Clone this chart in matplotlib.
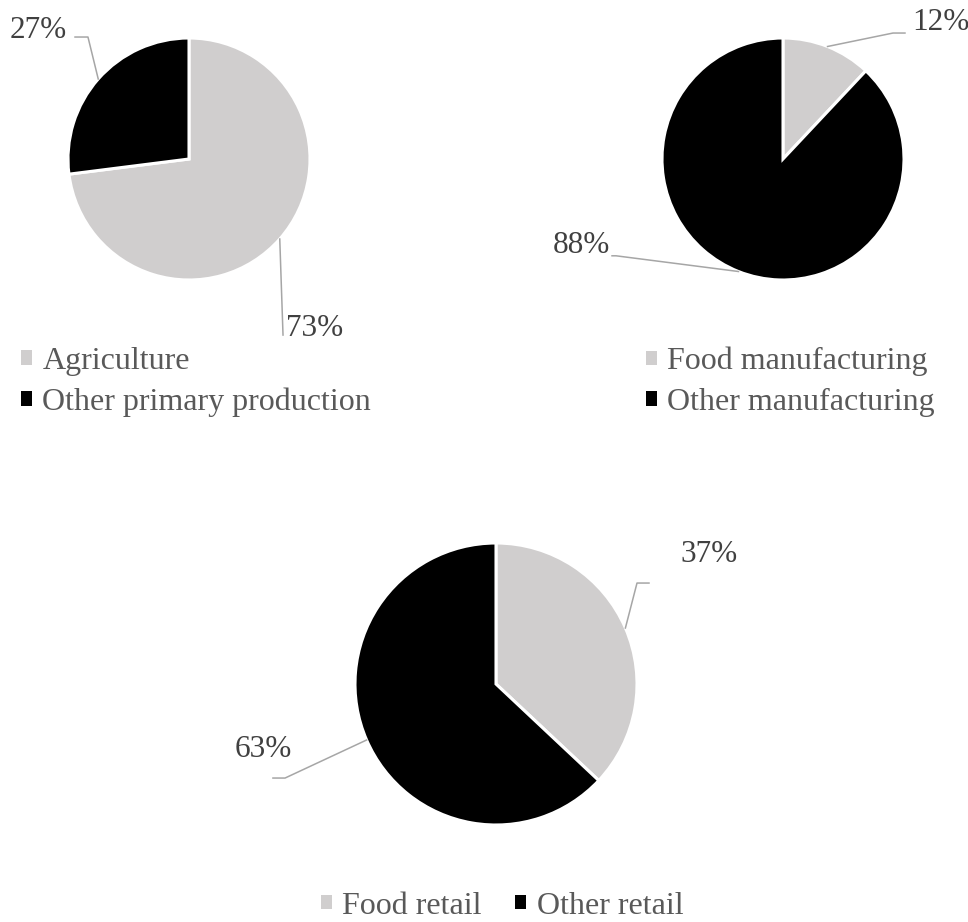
import numpy as np
import matplotlib.pyplot as plt
from matplotlib.patches import Patch

plt.rcParams['font.family'] = ['Liberation Serif', 'DejaVu Serif']

# Shares by sector (%)
primary_labels = ['Agriculture', 'Other primary production']
primary_values = [73, 27]
manuf_labels = ['Food manufacturing', 'Other manufacturing']
manuf_values = [12, 88]
retail_labels = ['Food retail', 'Other retail']
retail_values = [37, 63]

colors = ['#d0cece', '#000000']
label_color = '#404040'
legend_color = '#595959'
leader_color = '#a6a6a6'
FS = 22.5
LEG_FS = 23

W, H = 968, 922
fig = plt.figure(figsize=(W / 100, H / 100), dpi=100)


def pie_axes(cx, cy, r, pad=2.0):
    # axes whose data unit equals the pie radius in pixels
    ax = fig.add_axes([(cx - r * pad) / W, (H - cy - r * pad) / H,
                       2 * r * pad / W, 2 * r * pad / H])
    ax.set_xlim(-pad, pad)
    ax.set_ylim(-pad, pad)
    ax.set_axis_off()
    return ax


def draw_pie(ax, values, label_pos):
    wedges, _ = ax.pie(values, colors=colors, startangle=90, counterclock=False,
                       radius=1.0, center=(0, 0), frame=True,
                       wedgeprops=dict(edgecolor='white', linewidth=2.2))
    ax.set_xlim(-2, 2)
    ax.set_ylim(-2, 2)
    ax.set_axis_off()
    for w, v, (tx, ty, ha, pts) in zip(wedges, values, label_pos):
        mid = np.deg2rad((w.theta1 + w.theta2) / 2)
        xs = [np.cos(mid)] + [p[0] for p in pts]
        ys = [np.sin(mid)] + [p[1] for p in pts]
        ax.plot(xs, ys, color=leader_color, lw=1.1, clip_on=False)
        ax.text(tx, ty, f'{v}%', ha=ha, va='center', fontsize=FS,
                color=label_color, clip_on=False)
    return wedges


# primary production
ax1 = pie_axes(189, 159, 121)
draw_pie(ax1, primary_values, [
    (0.80, -1.397, 'left', [(0.777, -1.455)]),
    (-1.008, 1.066, 'right', [(-0.835, 1.008), (-0.942, 1.008)]),
])

# manufacturing
ax2 = pie_axes(783, 159, 121)
draw_pie(ax2, manuf_values, [
    (1.066, 1.132, 'left', [(0.909, 1.041), (1.008, 1.041)]),
    (-1.43, -0.711, 'right', [(-1.38, -0.80), (-1.413, -0.80)]),
])

# retail
ax3 = pie_axes(496, 684, 141)
draw_pie(ax3, retail_values, [
    (1.305, 0.915, 'left', [(1.0, 0.716), (1.085, 0.716)]),
    (-1.447, -0.468, 'right', [(-1.496, -0.667), (-1.582, -0.667)]),
])

handles = [Patch(facecolor=c, edgecolor='none') for c in colors]
leg_kw = dict(frameon=False, fontsize=LEG_FS, handlelength=0.34, handleheight=0.34,
              handletextpad=0.33, borderpad=0, borderaxespad=0, labelcolor=legend_color)

fig.legend(handles, primary_labels, loc='center left',
           bbox_to_anchor=(21 / W, 1 - 382 / H), labelspacing=0.36, **leg_kw)
fig.legend(handles, manuf_labels, loc='center left',
           bbox_to_anchor=(646 / W, 1 - 382 / H), labelspacing=0.36, **leg_kw)
fig.legend(handles, retail_labels, loc='center left', ncol=2, columnspacing=1.05,
           bbox_to_anchor=(321 / W, 1 - 906 / H), **leg_kw)

fig.savefig('out.png', dpi=100)
